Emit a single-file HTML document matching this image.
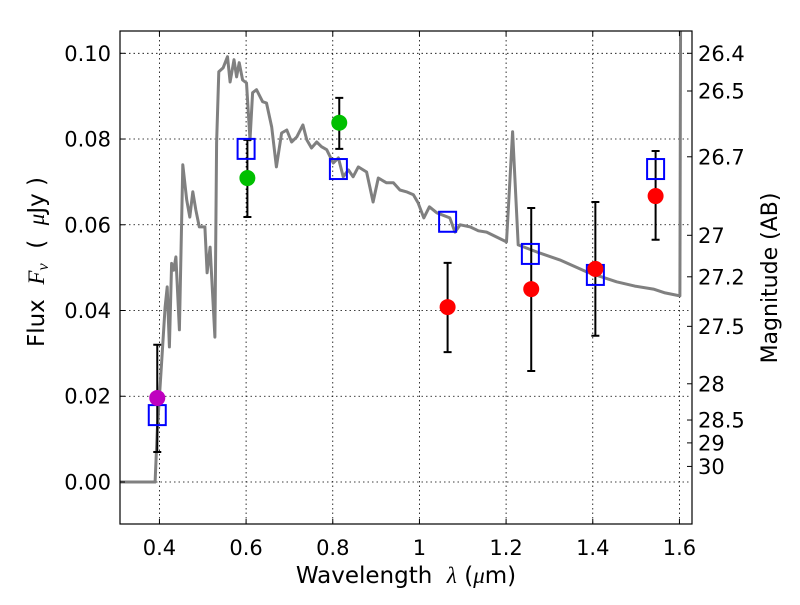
<!DOCTYPE html>
<html><head><meta charset="utf-8"><style>
body{margin:0;background:#fff}
svg text{font-family:"DejaVu Sans","Liberation Sans",sans-serif;fill:#000;white-space:pre}
</style></head><body>
<svg id="chart" xmlns="http://www.w3.org/2000/svg" width="800" height="600" viewBox="0 0 800 600">
<rect width="800" height="600" fill="#fff"/>
<defs><clipPath id="clip"><rect x="120" y="31" width="572" height="493"/></clipPath></defs>
<g id="grid"></g>
<g id="plot" clip-path="url(#clip)"></g>
<rect x="120" y="31" width="572" height="493" fill="none" stroke="#000" stroke-width="1.2"/>
<g id="axes"></g>
<text x="406" y="583" font-size="23" text-anchor="middle">Wavelength  <tspan font-family="Liberation Serif" font-style="italic">λ</tspan> (<tspan font-family="Liberation Serif" font-style="italic">μ</tspan>m)</text>
<text transform="translate(44,262) rotate(-90)" font-size="23" text-anchor="middle">Flux  <tspan font-family="Liberation Serif" font-style="italic">F<tspan font-size="16" dy="4">ν</tspan></tspan><tspan dy="-4">  (  </tspan><tspan font-family="Liberation Serif" font-style="italic">μ</tspan>Jy )</text>
<text transform="translate(777,278) rotate(-90)" font-size="22" text-anchor="middle">Magnitude (AB)</text>
</svg>
<script>
const xTicks=[0.4,0.6,0.8,1.0,1.2,1.4,1.6];
const xTickLabels=["0.4","0.6","0.8","1","1.2","1.4","1.6"];
const yTicks=[0,0.02,0.04,0.06,0.08,0.10];
const yTickLabels=["0.00","0.02","0.04","0.06","0.08","0.10"];
const magTicks=[26.4,26.5,26.7,27,27.2,27.5,28,28.5,29,30];
const magTickLabels=["26.4","26.5","26.7","27","27.2","27.5","28","28.5","29","30"];
const sedLambda=[0.31,0.390,0.395,0.405,0.413,0.418,0.423,0.428,0.433,0.438,0.446,0.454,0.463,0.470,0.477,0.484,0.492,0.505,0.510,0.517,0.528,0.532,0.537,0.547,0.557,0.563,0.572,0.578,0.584,0.592,0.601,0.609,0.615,0.624,0.638,0.647,0.659,0.670,0.682,0.694,0.705,0.717,0.731,0.740,0.751,0.763,0.774,0.786,0.801,0.813,0.824,0.836,0.847,0.859,0.878,0.893,0.905,0.924,0.940,0.955,0.970,0.986,0.997,1.010,1.023,1.040,1.070,1.082,1.094,1.117,1.136,1.155,1.201,1.215,1.228,1.278,1.324,1.386,1.455,1.497,1.540,1.567,1.601,1.603];
const sedFlux=[0,0,0.0121,0.0278,0.0408,0.0455,0.0315,0.051,0.0494,0.0525,0.0355,0.074,0.0658,0.0618,0.0677,0.0635,0.0595,0.0595,0.0488,0.0548,0.0338,0.0791,0.0957,0.0966,0.0992,0.0933,0.0985,0.0945,0.0978,0.0938,0.0931,0.0798,0.0908,0.0915,0.0887,0.0884,0.0828,0.0735,0.0814,0.0821,0.0793,0.0805,0.0833,0.0798,0.0779,0.0793,0.0782,0.0775,0.0744,0.0756,0.0712,0.0728,0.0712,0.0735,0.0723,0.0653,0.0709,0.0698,0.0698,0.0681,0.0677,0.0670,0.0651,0.0616,0.0642,0.0628,0.0616,0.0583,0.0600,0.0595,0.0586,0.0583,0.0560,0.0817,0.0553,0.0534,0.0518,0.0490,0.0467,0.0457,0.0450,0.0441,0.0434,0.12];
const obsLambda=[0.395,0.603,0.815,1.065,1.258,1.406,1.545];
const obsFlux=[0.0196,0.0709,0.0838,0.0408,0.045,0.0497,0.0667];
const obsErrHi=[0.032,0.0798,0.0896,0.0511,0.0639,0.0653,0.0772];
const obsErrLo=[0.007,0.0618,0.0777,0.0303,0.0259,0.0341,0.0565];
const obsColor=["#bf00bf","#00bf00","#00bf00","#ff0000","#ff0000","#ff0000","#ff0000"];
const modLambda=[0.395,0.60,0.813,1.065,1.256,1.406,1.545];
const modFlux=[0.0156,0.0777,0.073,0.0607,0.0532,0.0483,0.073];

const X0=120,X1=692,Y0=31,Y1=524,xmin=0.309,xmax=1.629,ymin=-0.0098,ymax=0.1052;
const sx=v=>X0+(v-xmin)/(xmax-xmin)*(X1-X0);
const sy=v=>Y1-(v-ymin)/(ymax-ymin)*(Y1-Y0);
const NS="http://www.w3.org/2000/svg";
function mk(tag,attrs,parent){const e=document.createElementNS(NS,tag);for(const k in attrs)e.setAttribute(k,attrs[k]);parent.appendChild(e);return e;}
const grid=document.getElementById('grid'),plot=document.getElementById('plot'),axes=document.getElementById('axes');

xTicks.forEach((t,i)=>{
  const x=sx(t);
  const g=mk('line',{x1:x,x2:x,y1:Y0,y2:Y1,stroke:'#000','stroke-width':0.8,'stroke-dasharray':'1.5,3'},grid);
  
  
  const tk=mk('path',{d:`M${x},${Y1}v-5M${x},${Y0}v5`,stroke:'#000','stroke-width':1},axes);
  
  
  const l=mk('text',{x:x,y:555,'font-size':21,'text-anchor':'middle'},axes);
  l.textContent=xTickLabels[i];
  
  
});
yTicks.forEach((t,i)=>{
  const y=sy(t);
  const g=mk('line',{x1:X0,x2:X1,y1:y,y2:y,stroke:'#000','stroke-width':0.8,'stroke-dasharray':'1.5,3'},grid);
  
  
  const tk=mk('path',{d:`M${X0},${y}h5`,stroke:'#000','stroke-width':1},axes);
  
  
  const l=mk('text',{x:111,y:y+7.5,'font-size':21,'text-anchor':'end'},axes);
  l.textContent=yTickLabels[i];
  
  
});
magTicks.forEach((m,i)=>{
  const f=Math.pow(10,(23.9-m)/2.5);const y=sy(f);
  const tk=mk('path',{d:`M${X1},${y}h-5`,stroke:'#000','stroke-width':1},axes);
  
  
  const l=mk('text',{x:698,y:y+7.5,'font-size':21},axes);
  l.textContent=magTickLabels[i];
  
  
});
const pts=sedLambda.map((l,i)=>sx(l).toFixed(1)+','+sy(sedFlux[i]).toFixed(1)).join(' ');
const sed=mk('polyline',{points:pts,fill:'none',stroke:'#808080','stroke-width':3,'stroke-linejoin':'round'},plot);


obsLambda.forEach((l,i)=>{
  const x=sx(l);
  const e=mk('path',{d:`M${x},${sy(obsErrHi[i])}V${sy(obsErrLo[i])}M${x-4},${sy(obsErrHi[i])}h8M${x-4},${sy(obsErrLo[i])}h8`,stroke:'#000','stroke-width':2},plot);
  
  
});
modLambda.forEach((l,i)=>{
  const r=mk('rect',{x:sx(l)-8.5,y:sy(modFlux[i])-10,width:17,height:20,fill:'none',stroke:'#0000ff','stroke-width':2},plot);
  
  
});
obsLambda.forEach((l,i)=>{
  const c=mk('circle',{cx:sx(l),cy:sy(obsFlux[i]),r:8,fill:obsColor[i]},plot);
  
  
});
</script>
</body></html>
